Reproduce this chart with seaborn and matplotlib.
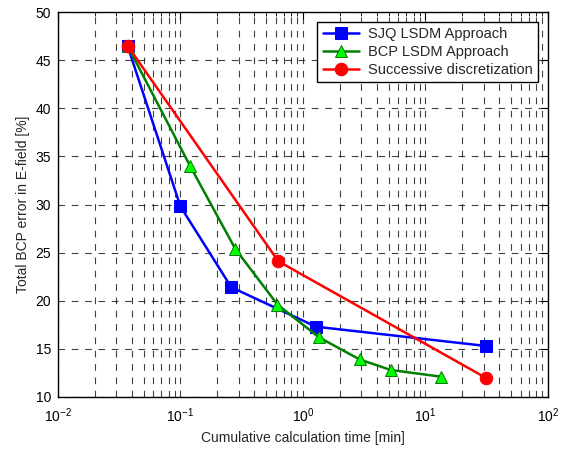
import pandas as pd
import matplotlib
matplotlib.use('Agg')
import matplotlib.pyplot as plt
import seaborn as sns
from matplotlib.ticker import LogLocator, NullFormatter

# data
sjq_time = [0.037, 0.10, 0.26, 1.28, 31.0]
sjq_err = [46.5, 29.8, 21.4, 17.3, 15.3]

bcp_time = [0.037, 0.12, 0.28, 0.62, 1.35, 2.9, 5.2, 13.5]
bcp_err = [46.5, 34.0, 25.4, 19.6, 16.2, 13.9, 12.8, 12.1]

succ_time = [0.037, 0.63, 31.0]
succ_err = [46.5, 24.1, 12.0]

sns.set_style('white')
plt.rcParams['font.family'] = ['Liberation Sans', 'DejaVu Sans']

fig = plt.figure(figsize=(5.71, 4.49), dpi=100)
ax = fig.add_axes([0.1015, 0.116, 0.858, 0.857])

df_sjq = pd.DataFrame({'t': sjq_time, 'e': sjq_err})
df_bcp = pd.DataFrame({'t': bcp_time, 'e': bcp_err})
df_succ = pd.DataFrame({'t': succ_time, 'e': succ_err})

sns.lineplot(data=df_sjq, x='t', y='e', ax=ax, color='blue', marker='s',
             markersize=8, markerfacecolor='blue', markeredgecolor='blue',
             linewidth=1.8, sort=False, label='SJQ LSDM Approach', zorder=3)
sns.lineplot(data=df_bcp, x='t', y='e', ax=ax, color='#008000', marker='^',
             markersize=9, markerfacecolor='#00ff00', markeredgecolor='#008000',
             linewidth=1.8, sort=False, label='BCP LSDM Approach', zorder=3)
sns.lineplot(data=df_succ, x='t', y='e', ax=ax, color='red', marker='o',
             markersize=9, markerfacecolor='red', markeredgecolor='red',
             linewidth=1.8, sort=False, label='Successive discretization', zorder=4)

ax.set_xscale('log')
ax.set_xlim(1e-2, 1e2)
ax.set_ylim(10, 50)
ax.set_yticks(range(10, 51, 5))
ax.xaxis.set_major_locator(LogLocator(base=10, numticks=10))
ax.xaxis.set_minor_locator(LogLocator(base=10, subs=range(2, 10), numticks=100))
ax.xaxis.set_minor_formatter(NullFormatter())

ax.grid(True, which='major', axis='both', color='black', linestyle=(0, (6, 6)), linewidth=0.8, alpha=0.75)
ax.grid(True, which='minor', axis='x', color='black', linestyle=(0, (6, 6)), linewidth=0.8, alpha=0.75)
ax.set_axisbelow(True)

ax.tick_params(which='both', direction='in', top=True, right=True, labelsize=10, colors='black')
ax.tick_params(which='major', length=5)
ax.tick_params(which='minor', length=3)
ax.tick_params(axis='x', which='major', pad=7)
ax.tick_params(axis='y', which='major', pad=5)
for s in ax.spines.values():
    s.set_color('black')
    s.set_linewidth(1.0)

ax.set_xlabel('Cumulative calculation time [min]', fontsize=10, labelpad=4)
ax.set_ylabel('Total BCP error in E-field [%]', fontsize=10)

leg = ax.legend(loc='upper right', fontsize=10.5, frameon=True, fancybox=False,
                edgecolor='black', framealpha=1, borderaxespad=0.7,
                handlelength=2.5, handletextpad=0.6, labelspacing=0.25, borderpad=0.35)
leg.get_frame().set_linewidth(1.0)

fig.savefig('out.png', dpi=100)
